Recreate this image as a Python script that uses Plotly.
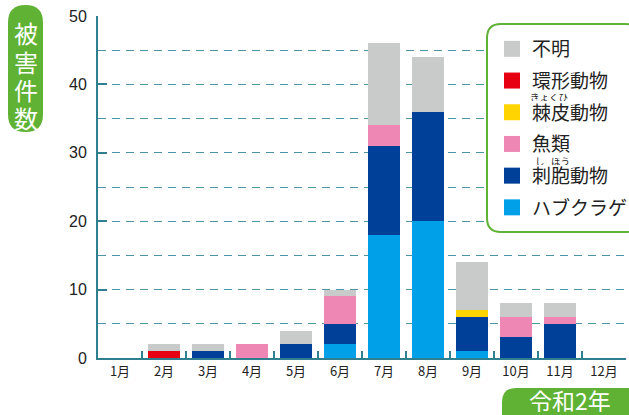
import plotly.graph_objects as go

months = ["1月", "2月", "3月", "4月", "5月", "6月", "7月", "8月", "9月", "10月", "11月", "12月"]
habu = [0, 0, 0, 0, 0, 2, 18, 20, 1, 0, 0, 0]
shiho = [0, 0, 1, 0, 2, 3, 13, 16, 5, 3, 5, 0]
gyorui = [0, 0, 0, 2, 0, 4, 3, 0, 0, 3, 1, 0]
kyokuhi = [0, 0, 0, 0, 0, 0, 0, 0, 1, 0, 0, 0]
kankei = [0, 1, 0, 0, 0, 0, 0, 0, 0, 0, 0, 0]
fumei = [0, 1, 1, 0, 2, 1, 12, 8, 7, 2, 2, 0]
ylabel_chars = ["被", "害", "件", "数"]

series = [
    ("ハブクラゲ", habu, "#00a0e9"),
    ("刺胞動物", shiho, "#004098"),
    ("魚類", gyorui, "#ee87b4"),
    ("棘皮動物", kyokuhi, "#ffd400"),
    ("環形動物", kankei, "#e60012"),
    ("不明", fumei, "#c9caca"),
]

FONT = "Noto Sans CJK JP"
GREEN = "#5fb233"
TEAL = "#2f7f90"

fig = go.Figure()
# stacked bars, bottom to top
for name, vals, color in series:
    fig.add_trace(go.Bar(x=months, y=vals, name=name, marker=dict(color=color, line=dict(width=0)),
                         showlegend=False))
# legend entries, top to bottom
for name, vals, color in reversed(series):
    fig.add_trace(go.Scatter(x=[None], y=[None], mode="markers", name=name, legendgroup=name,
                             marker=dict(symbol="square", size=18, color=color, line=dict(width=0))))

W, H = 629, 415
L, R, T, B = 98, 3, 16, 57
pw, ph = W - L - R, H - T - B

def px(x):
    return (x - L) / pw

def py(y):
    return (H - B - y) / ph

def rrect(x0, y0, x1, y1, r):
    kx, ky = r / pw, r / ph
    a0, a1 = px(x0), px(x1)
    b0, b1 = py(y1), py(y0)
    return (f"M{a0+kx},{b1} L{a1-kx},{b1} Q{a1},{b1} {a1},{b1-ky} L{a1},{b0+ky} "
            f"Q{a1},{b0} {a1-kx},{b0} L{a0+kx},{b0} Q{a0},{b0} {a0},{b0+ky} "
            f"L{a0},{b1-ky} Q{a0},{b1} {a0+kx},{b1} Z")

shapes = [
    dict(type="path", xref="paper", yref="paper", path=rrect(487, 24, 640, 232, 14),
         fillcolor="white", line=dict(color=GREEN, width=2), layer="above"),
    dict(type="path", xref="paper", yref="paper", path=rrect(8, 5, 43, 132, 17.5),
         fillcolor=GREEN, line=dict(width=0), layer="above"),
    dict(type="path", xref="paper", yref="paper", path=rrect(502, 388, 660, 430, 14),
         fillcolor=GREEN, line=dict(width=0), layer="above"),
]

annotations = []
for i, ch in enumerate(ylabel_chars):
    annotations.append(dict(text=ch, xref="paper", yref="paper", x=px(25.5), y=py(33 + i * 28.3),
                            showarrow=False, font=dict(family=FONT, size=24, color="white"),
                            xanchor="center", yanchor="middle", height=27, width=30))
ruby = [("きょくひ", 549, 96), ("し", 540, 160), ("ほう", 560, 160)]
for t, x, y in ruby:
    annotations.append(dict(text=t, xref="paper", yref="paper", x=px(x), y=py(y),
                            showarrow=False, font=dict(family=FONT, size=9.5, color="#222"),
                            xanchor="center", yanchor="middle", height=9))
annotations.append(dict(text="令和2年", xref="paper", yref="paper", x=px(570), y=py(400),
                        showarrow=False, font=dict(family=FONT, size=23, color="white"),
                        xanchor="center", yanchor="middle", height=24))

fig.update_layout(
    width=W, height=H,
    margin=dict(l=L, r=R, t=T, b=B, autoexpand=False),
    barmode="stack",
    bargap=0.27,
    plot_bgcolor="white",
    paper_bgcolor="white",
    font=dict(family=FONT, color="#222"),
    shapes=shapes,
    annotations=annotations,
    legend=dict(x=px(492), y=py(30), xanchor="left", yanchor="top",
                bgcolor="rgba(0,0,0,0)", borderwidth=0, traceorder="grouped",
                font=dict(family=FONT, size=19, color="#222"), tracegroupgap=4,
                itemwidth=30),
    xaxis=dict(type="category", showline=True, linecolor=TEAL, linewidth=2,
               ticks="inside", tickson="boundaries", ticklen=7, tickcolor=TEAL, tickwidth=1.5,
               showgrid=False, tickfont=dict(family=FONT, size=13, color="#222"), fixedrange=True),
    yaxis=dict(range=[0, 50], dtick=10, showline=True, linecolor=TEAL, linewidth=2,
               ticks="inside", ticklen=9, tickcolor=TEAL, tickwidth=2,
               showgrid=True, gridcolor="#4b95a5", gridwidth=1.3, griddash="8px,6px",
               zeroline=False, ticklabelstandoff=6,
               tickfont=dict(family="Liberation Sans", size=16, color="#222"),
               minor=dict(dtick=5, showgrid=True, gridcolor="#4b95a5", gridwidth=1.3,
                          griddash="8px,6px", ticks=""),
               fixedrange=True),
)

fig.write_html("out.html", config={"displayModeBar": False},
               post_script="document.body.style.margin='0';document.body.style.overflow='hidden';")
